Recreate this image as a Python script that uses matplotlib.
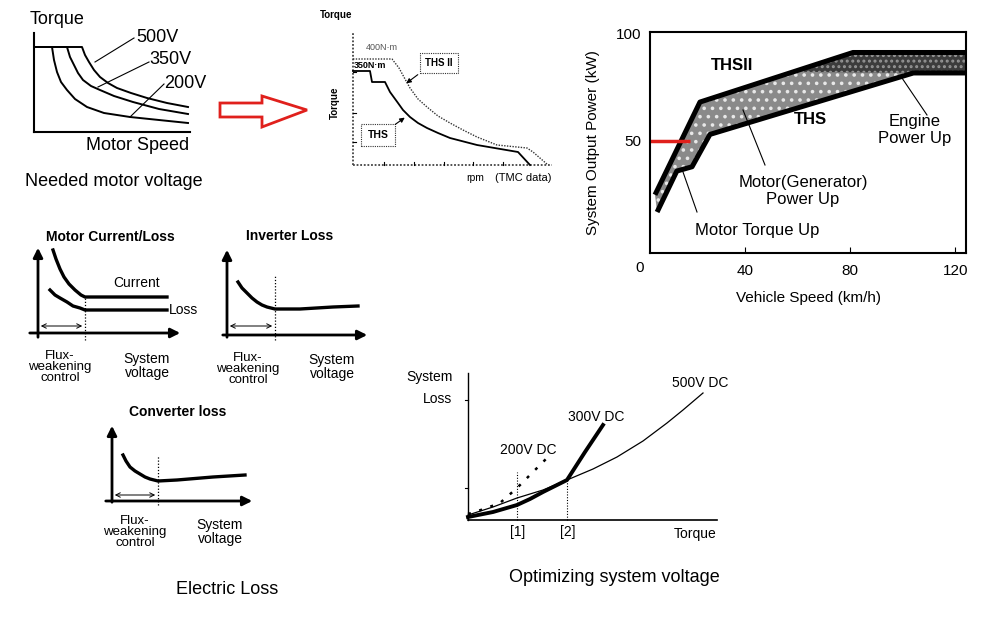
import numpy as np
import matplotlib
matplotlib.use("Agg")
import matplotlib.pyplot as plt
from matplotlib.patches import Polygon

plt.rcParams['font.family'] = ['Liberation Sans', 'DejaVu Sans']
plt.rcParams['hatch.linewidth'] = 1.4

W, H = 982, 621

# ---- panel 1: needed motor voltage (speed / torque, arbitrary units)
v200_speed = [0, 18, 20, 23, 27, 33, 41, 53, 70, 96, 125, 154]
v200_torque = [85, 85, 72, 60, 50, 42, 33, 25, 19, 15, 12, 9]
v350_speed = [0, 33, 36, 40, 44, 49, 57, 66, 80, 99, 125, 154]
v350_torque = [85, 85, 75, 67, 59, 52, 46, 42, 36, 30, 23, 18]
v500_speed = [0, 48, 51, 55, 60, 66, 74, 83, 97, 113, 133, 154]
v500_torque = [85, 85, 77, 70, 62, 55, 49, 44, 39, 34, 29, 25]

# ---- panel 2: THS / THS II torque (TMC data)
ths2_rpm = [0, 39, 46, 52, 57, 65, 74, 85, 97, 110, 124, 144, 174, 180, 195]
ths2_torque = [106, 106, 97, 86, 77, 66, 58, 49, 42, 35, 28, 20, 17, 13, 0]
ths_rpm = [0, 17, 19, 32, 37, 45, 50, 57, 65, 74, 85, 97, 124, 165, 177]
ths_torque = [94, 94, 83, 83, 73, 62, 55, 48, 42, 37, 32, 27, 20, 13, 0]

# ---- panel 3: system output power
thsii_speed = [5.7, 22.8, 81, 124]
thsii_power = [25, 68, 91, 91]
ths_speed = [6.5, 14, 19.8, 26.6, 104, 124]
ths_power = [17, 36, 38, 53, 81.5, 81.5]
engine_speed = [62, 81, 124, 124, 104, 62]
engine_power = [83.5, 91, 91, 81.5, 81.5, 82]

# ---- panels 4-6: electric loss
cur_x = [15, 18, 22, 26, 31, 37, 43, 47, 129]
cur_y = [83, 74, 64, 56, 49, 43, 38, 36, 36]
mloss_x = [12, 17, 22, 29, 35, 42, 47, 129]
mloss_y = [43, 38, 35, 31, 27, 25, 23, 23]
inv_x = [11, 15, 20, 25, 30, 35, 40, 48, 73, 106, 131]
inv_y = [53, 47, 42, 37, 33, 30, 28, 26, 26, 28, 29]
conv_x = [11, 14, 18, 23, 28, 33, 38, 46, 65, 101, 133]
conv_y = [46, 40, 34, 30, 27, 24, 22, 20, 21, 24, 26]

# ---- panel 7: optimizing system voltage
v500dc_t = [0, 25, 49, 75, 99, 125, 149, 175, 199, 215, 235]
v500dc_l = [5, 13, 22, 30, 40, 51, 63, 79, 97, 110, 127]
v300dc_t = [0, 25, 49, 62, 75, 87, 99, 117, 135]
v300dc_l = [3, 8, 15, 21, 28, 34, 40, 68, 95]
v200dc_t = [0, 16, 32, 49, 64, 79]
v200dc_l = [6, 11, 17, 32, 47, 62]

fig = plt.figure(figsize=(W / 100, H / 100), dpi=100)


def px_axes(x0, y0, x1, y1, ox, oy):
    # axes whose data units are pixels measured from origin (ox, oy)
    ax = fig.add_axes([x0 / W, 1 - y1 / H, (x1 - x0) / W, (y1 - y0) / H])
    ax.set_xlim(x0 - ox, x1 - ox)
    ax.set_ylim(oy - y1, oy - y0)
    ax.axis('off')
    ax.patch.set_alpha(0)
    return ax


# panel 1
ax1 = px_axes(20, 25, 200, 140, 34, 132)
ax1.plot([0, 0], [0, 99], color='k', lw=1.5)
ax1.plot([0, 156], [0, 0], color='k', lw=1.5)
for sx, ty in [(v200_speed, v200_torque), (v350_speed, v350_torque), (v500_speed, v500_torque)]:
    ax1.plot(sx, ty, color='k', lw=1.4)

# panel 2
ax2 = px_axes(345, 25, 560, 172, 353, 165)
ax2.plot([0, 0], [0, 132], color='#444', lw=1.3, ls=(0, (1, 1)))
ax2.plot([0, 199], [0, 0], color='#444', lw=1.3, ls=(0, (1, 1)))
for tx in [31, 61, 91, 120, 150]:
    ax2.plot([tx, tx], [0, 3], color='k', lw=0.8)
for ty in [93, 52, 23]:
    ax2.plot([0, 3], [ty, ty], color='k', lw=0.8)
ax2.plot(ths2_rpm, ths2_torque, color='#333', lw=1.0, ls=(0, (1, 1)))
ax2.plot(ths_rpm, ths_torque, color='k', lw=1.3)

# panel 3
ax3 = fig.add_axes([650 / W, 1 - 253 / H, 316 / W, 221 / H])
ax3.set_xlim(3.8, 124)
ax3.set_ylim(-2, 100.5)
poly_x = thsii_speed + ths_speed[::-1]
poly_y = thsii_power + ths_power[::-1]
ax3.fill(poly_x, poly_y, facecolor='#8a8a8a', edgecolor='#e8e8e8', lw=0, hatch='..')
ax3.fill(engine_speed, engine_power, facecolor='#3c3c3c', edgecolor='#959595', lw=0, hatch='...')
ax3.plot(thsii_speed, thsii_power, color='k', lw=3.6, solid_capstyle='butt')
ax3.plot(ths_speed, ths_power, color='k', lw=3.6, solid_capstyle='butt')
ax3.plot([3.8, 19], [50, 50], color='#e0201c', lw=2.5, solid_capstyle='butt')
ax3.set_xticks([40, 80, 120])
ax3.set_yticks([50, 100])
ax3.tick_params(axis='x', direction='in', length=4, labelsize=11, pad=8)
ax3.tick_params(axis='y', length=0, labelsize=11, pad=6)
for s in ax3.spines.values():
    s.set_linewidth(1.5)
ax3.set_xlabel('Vehicle Speed (km/h)', fontsize=11, labelpad=9)
ax3.set_ylabel('System Output Power (kW)', fontsize=11, labelpad=12)


def loss_axes(ax, xmax, ymax, xmin, ymin, vline_x, vline_top, arrow_y):
    ax.annotate('', xy=(0, ymax), xytext=(0, ymin),
                arrowprops=dict(arrowstyle='-|>', lw=2, color='k', mutation_scale=14))
    ax.annotate('', xy=(xmax, 0), xytext=(xmin, 0),
                arrowprops=dict(arrowstyle='-|>', lw=2, color='k', mutation_scale=14))
    ax.plot([vline_x, vline_x], [ymin, vline_top], color='k', lw=0.9, ls=(0, (1, 1.5)))
    ax.annotate('', xy=(vline_x, arrow_y), xytext=(0, arrow_y),
                arrowprops=dict(arrowstyle='<->', lw=0.7, color='k', mutation_scale=8))


# panel 4
ax4 = px_axes(20, 240, 195, 360, 38, 333)
loss_axes(ax4, 145, 88, -11, -7, 47, 36, 7)
ax4.plot(cur_x, cur_y, color='k', lw=2.4)
ax4.plot(mloss_x, mloss_y, color='k', lw=2.4)

# panel 5
ax5 = px_axes(215, 240, 375, 345, 227, 335)
loss_axes(ax5, 143, 88, -7, -5, 48, 60, 9)
ax5.plot(inv_x, inv_y, color='k', lw=2.4)

# panel 6
ax6 = px_axes(100, 415, 260, 510, 112, 501)
loss_axes(ax6, 143, 78, -9, -4, 46, 46, 6)
ax6.plot(conv_x, conv_y, color='k', lw=2.4)

# panel 7
ax7 = px_axes(460, 365, 720, 525, 468, 520)
ax7.plot([0, 0], [0, 147], color='k', lw=1.0)
ax7.plot([0, 249], [0, 0], color='k', lw=1.2)
for ty in [120, 32]:
    ax7.plot([-3, 0], [ty, ty], color='k', lw=0.8)
ax7.plot(v500dc_t, v500dc_l, color='k', lw=0.9)
ax7.plot(v300dc_t, v300dc_l, color='k', lw=2.8)
ax7.plot(v200dc_t, v200dc_l, color='k', lw=1.8, ls=(0, (1.2, 3.5)))
ax7.plot([49, 49], [0, 48], color='k', lw=0.8, ls=(0, (1, 1.5)))
ax7.plot([99, 99], [0, 42], color='k', lw=0.8, ls=(0, (1, 1.5)))

# overlay in pixel coordinates for texts and callouts
ov = fig.add_axes([0, 0, 1, 1], zorder=10)
ov.set_xlim(0, W)
ov.set_ylim(H, 0)
ov.axis('off')
ov.patch.set_alpha(0)


def t(x, y, s, **kw):
    kw.setdefault('va', 'center')
    ov.text(x, y, s, **kw)


def line(pts, **kw):
    xs, ys = zip(*pts)
    ov.plot(xs, ys, color=kw.pop('color', 'k'), lw=kw.pop('lw', 0.8), **kw)


# panel 1 texts
t(30, 20, 'Torque', fontsize=13)
t(136, 37, '500V', fontsize=13)
t(149, 60, '350V', fontsize=13)
t(164, 83, '200V', fontsize=13)
line([(134, 38), (95, 62)])
line([(149, 62), (98, 87)])
line([(164, 84), (130, 117)])
t(189, 146, 'Motor Speed', fontsize=13, ha='right')
t(114, 182, 'Needed motor voltage', fontsize=13, ha='center')

# red arrow
arrow_pts = [(220, 103), (262, 103), (262, 96), (307, 110), (262, 127), (262, 117), (220, 117)]
ov.add_patch(Polygon(arrow_pts, closed=True, facecolor='white', edgecolor='#e0201c', lw=2))

# panel 2 texts
t(320, 15, 'Torque', fontsize=7, fontweight='bold')
t(366, 47, '400N·m', fontsize=6.5, color='#555')
t(354, 66, '350N·m', fontsize=6.5, fontweight='bold')
t(439, 63, 'THS II', fontsize=7, fontweight='bold', ha='center',
  bbox=dict(boxstyle='square,pad=0.5', fc='white', ec='#333', lw=0.8, ls=(0, (1, 1))))
t(378, 135, 'THS', fontsize=7.5, fontweight='bold', ha='center',
  bbox=dict(boxstyle='square,pad=0.6', fc='white', ec='#333', lw=0.8, ls=(0, (1, 1))))
ov.annotate('', xy=(404, 85), xytext=(420, 73),
            arrowprops=dict(arrowstyle='-|>', lw=0.8, color='k', mutation_scale=7))
ov.annotate('', xy=(407, 116), xytext=(393, 126),
            arrowprops=dict(arrowstyle='-|>', lw=0.8, color='k', mutation_scale=7))
t(335, 103, 'Torque', fontsize=7, fontweight='bold', rotation=90, ha='center')
t(475, 178, 'rpm', fontsize=7.5, ha='center')
t(523, 178, '(TMC data)', fontsize=8, ha='center')

# panel 3 texts
t(640, 268, '0', fontsize=11, ha='center')
t(732, 65, 'THSII', fontsize=12, fontweight='bold', ha='center')
t(810, 120, 'THS', fontsize=12, fontweight='bold', ha='center')
t(915, 130, 'Engine\nPower Up', fontsize=12, ha='center', linespacing=1.2)
t(803, 191, 'Motor(Generator)\nPower Up', fontsize=12, ha='center', linespacing=1.15)
t(757, 230, 'Motor Torque Up', fontsize=12, ha='center')
line([(902, 78), (927, 115)])
line([(743, 110), (765, 165)])
line([(683, 172), (697, 212)])

# panels 4-6 texts
flux = 'Flux-\nweakening\ncontrol'
sysv = 'System\nvoltage'
t(110, 237, 'Motor Current/Loss', fontsize=10, fontweight='bold', ha='center')
t(113, 283, 'Current', fontsize=10)
t(169, 310, 'Loss', fontsize=10)
t(60, 367, flux, fontsize=9.5, ha='center', linespacing=0.92)
t(147, 366, sysv, fontsize=10, ha='center', linespacing=1.0)
t(290, 236, 'Inverter Loss', fontsize=10, fontweight='bold', ha='center')
t(248, 369, flux, fontsize=9.5, ha='center', linespacing=0.92)
t(332, 367, sysv, fontsize=10, ha='center', linespacing=1.0)
t(178, 412, 'Converter loss', fontsize=10, fontweight='bold', ha='center')
t(135, 532, flux, fontsize=9.5, ha='center', linespacing=0.92)
t(220, 532, sysv, fontsize=10, ha='center', linespacing=1.0)
t(227, 590, 'Electric Loss', fontsize=13, ha='center')

# panel 7 texts
t(406, 377, 'System', fontsize=10)
t(423, 399, 'Loss', fontsize=10)
t(672, 383, '500V DC', fontsize=10)
t(568, 417, '300V DC', fontsize=10)
t(500, 450, '200V DC', fontsize=10)
t(518, 532, '[1]', fontsize=10, ha='center')
t(568, 532, '[2]', fontsize=10, ha='center')
t(717, 534, 'Torque', fontsize=10, ha='right')
t(614, 578, 'Optimizing system voltage', fontsize=13, ha='center')

fig.savefig('out.png', dpi=100)
